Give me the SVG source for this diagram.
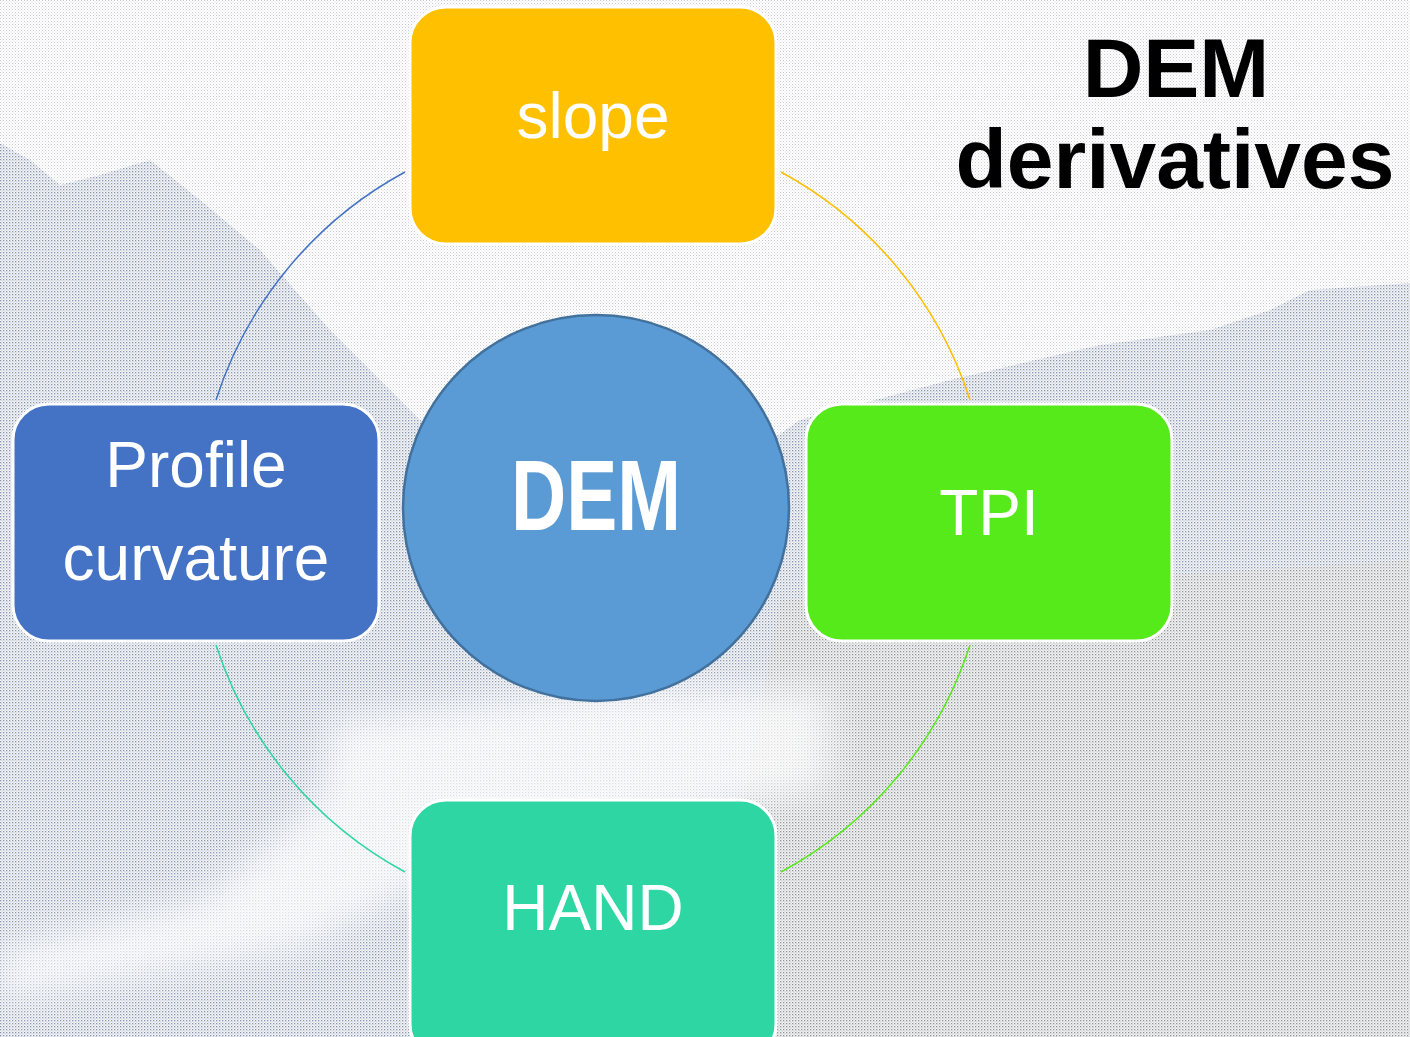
<svg xmlns="http://www.w3.org/2000/svg" width="1410" height="1037" viewBox="0 0 1410 1037">
<style>
.box{stroke:#ffffff;stroke-width:3}
.lbl{font-family:"Liberation Sans",Arial,sans-serif;fill:#ffffff;font-size:64px;text-anchor:middle}
.arc{fill:none;stroke-width:1.5}
.title{font-family:"Liberation Sans",Arial,sans-serif;font-weight:bold;fill:#000000;font-size:84px;text-anchor:middle}
</style>
<defs>
<pattern id="pLight" width="3" height="3" patternUnits="userSpaceOnUse">
<rect width="3" height="3" fill="#ffffff"/>
<rect x="0" y="0" width="1" height="1" fill="#c9ccd3"/>
<rect x="1.5" y="1.5" width="1" height="1" fill="#dcdde2"/>
</pattern>
<pattern id="pMid" width="3" height="3" patternUnits="userSpaceOnUse">
<rect width="3" height="3" fill="#f6f7f9"/>
<rect x="0" y="0" width="1.3" height="1.3" fill="#8593ad"/>
<rect x="1.5" y="1.5" width="1.1" height="1.1" fill="#b3bccc"/>
</pattern>
<pattern id="pGray" width="3" height="3" patternUnits="userSpaceOnUse">
<rect width="3" height="3" fill="#f4f4f5"/>
<rect x="0" y="0" width="1.3" height="1.3" fill="#8e9198"/>
<rect x="1.5" y="1.5" width="1.1" height="1.1" fill="#b8babf"/>
</pattern>
<filter id="blur" x="-20%" y="-20%" width="140%" height="140%"><feGaussianBlur stdDeviation="18"/></filter>
</defs>
<g id="background">
<rect width="1410" height="1037" fill="url(#pLight)"/>
<polygon fill="url(#pMid)" points="0,143 30,160 60,185 100,175 150,160 200,200 260,250 330,330 420,420 600,560 800,420 950,380 1100,345 1210,330 1270,310 1310,290 1410,283 1410,1037 0,1037"/>
<polygon fill="url(#pGray)" points="780,600 1410,560 1410,1037 700,1037"/>
<polygon fill="#ffffff" opacity="0.7" filter="url(#blur)" points="330,720 600,690 830,690 830,790 600,830 470,860 300,950 0,1000 0,950 200,900 320,800"/>
</g>
<g id="connectors">
<path class="arc" stroke="#4472C4" d="M216,400 A397,397 0 0 1 405,172"/>
<path class="arc" stroke="#FFC000" d="M781,172 A397,397 0 0 1 970,400"/>
<path class="arc" stroke="#56EA1A" d="M970,645 A397,397 0 0 1 781,872"/>
<path class="arc" stroke="#2ED6A3" d="M405,872 A397,397 0 0 1 216,645"/>
</g>
<g id="node-slope">
<rect class="box" x="410" y="7" width="366" height="237" rx="36" fill="#FFC000"/>
<text class="lbl" x="593" y="138">slope</text>
</g>
<g id="node-profile">
<rect class="box" x="13" y="404" width="366" height="237" rx="36" fill="#4472C4"/>
<text class="lbl" x="196" y="487">Profile</text>
<text class="lbl" x="196" y="580">curvature</text>
</g>
<g id="node-tpi">
<rect class="box" x="806" y="404" width="366" height="237" rx="36" fill="#56EA1A"/>
<text class="lbl" x="989" y="535">TPI</text>
</g>
<g id="node-hand">
<rect class="box" x="410" y="800" width="366" height="260" rx="36" fill="#2ED6A3"/>
<text class="lbl" x="593" y="930">HAND</text>
</g>
<g id="node-dem">
<circle cx="596" cy="508" r="193" fill="#5B9BD5" stroke="#41719C" stroke-width="2.5"/>
<text x="596" y="530" font-family="'Liberation Sans',Arial,sans-serif" font-weight="bold" font-size="101" fill="#ffffff" text-anchor="middle" textLength="170" lengthAdjust="spacingAndGlyphs">DEM</text>
</g>
<g id="title">
<text class="title" x="1176" y="97">DEM</text>
<text class="title" x="1175" y="188">derivatives</text>
</g>
</svg>
